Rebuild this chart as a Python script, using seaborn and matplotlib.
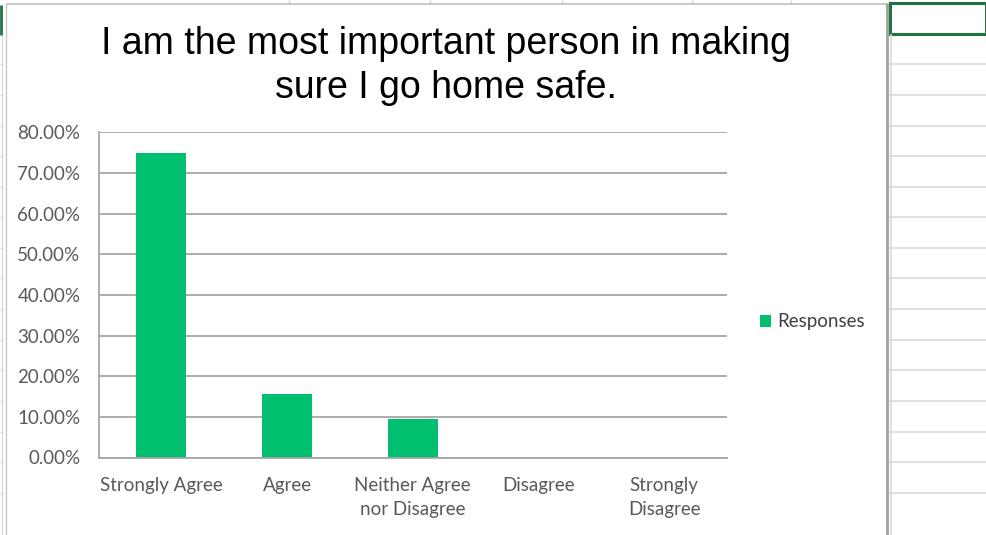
import matplotlib
matplotlib.use("Agg")
import matplotlib.pyplot as plt
import seaborn as sns
import pandas as pd
from matplotlib.lines import Line2D
from matplotlib.patches import Rectangle
from matplotlib.ticker import FixedLocator, FuncFormatter

categories = ["Strongly Agree", "Agree", "Neither Agree\nnor Disagree", "Disagree", "Strongly\nDisagree"]
responses = [0.75, 0.15625, 0.09375, 0.0, 0.0]
series_name = "Responses"
title = "I am the most important person in making\nsure I go home safe."
ytick_values = [0.0, 0.1, 0.2, 0.3, 0.4, 0.5, 0.6, 0.7, 0.8]

W, H = 986, 535
BAR = "#00BF6F"
GRID = "#a6a6a6"
TXT = "#595959"
FS = 13.5

sns.set_theme(style="white")
plt.rcParams['font.family'] = ['Lato', 'DejaVu Sans']

fig = plt.figure(figsize=(W / 100, H / 100), dpi=100)
fig.patch.set_facecolor("white")


def fx(px):
    return px / W


def fy(py):
    return 1 - py / H


# --- spreadsheet surroundings (decoration) ---
def fline(x0, y0, x1, y1, color, lw):
    fig.add_artist(Line2D([fx(x0), fx(x1)], [fy(y0), fy(y1)], transform=fig.transFigure,
                          color=color, lw=lw, solid_capstyle="butt"))


for yy in [64, 95, 126, 156, 187, 217, 248, 278, 309, 340, 370, 401, 432, 462, 493]:
    fline(889, yy, 986, yy, "#dadada", 1.2)
fline(890.5, 34, 890.5, 535, "#dadada", 1.2)
for xx in [289, 430, 562, 692, 791]:
    fline(xx, 0, xx, 4, "#d0d0d0", 1.0)
for yy in [64, 95, 126, 156, 187, 217, 248, 278, 309, 340, 370, 401, 432, 462, 493]:
    fline(0, yy, 3, yy, "#dadada", 1.0)
fline(2, 35, 2, 535, "#dadada", 1.0)
fline(1, 5, 1, 35, "#217346", 2.0)
# chart area border
fline(6, 4, 887, 4, "#bfbfbf", 1.2)
fline(6, 4, 6, 535, "#c8c8c8", 1.0)
fline(887, 3, 887, 535, "#a0a0a0", 2.0)
# selected cell
fig.add_artist(Rectangle((fx(889.5), fy(34)), fx(986) - fx(889.5), fy(3.5) - fy(34),
                         transform=fig.transFigure, fill=False, edgecolor="#217346", lw=2.2))

# --- chart ---
ax = fig.add_axes([fx(98.5), fy(457.5), fx(727) - fx(98.5), fy(132.3) - fy(457.5)])
df = pd.DataFrame({"Category": categories, "Value": responses, "Series": series_name})
sns.barplot(data=df, x="Category", y="Value", hue="Series", palette=[BAR], width=0.4,
            saturation=1, ax=ax, legend=True, linewidth=0)

ax.set_xlim(-0.5, len(categories) - 0.5)
ax.set_ylim(0, 0.8)
ax.yaxis.set_major_locator(FixedLocator(ytick_values))
ax.yaxis.set_major_formatter(FuncFormatter(lambda v, p: f"{v * 100:.2f}%"))
ax.set_axisbelow(True)
ax.grid(axis="y", color=GRID, lw=1.3)
ax.grid(axis="x", visible=False)
ax.set_xlabel("")
ax.set_ylabel("")

for s in ["top", "right"]:
    ax.spines[s].set_visible(False)
for s in ["left", "bottom"]:
    ax.spines[s].set_color(GRID)
    ax.spines[s].set_linewidth(1.3)

ax.set_xticks(range(len(categories)))
ax.set_xticklabels(categories, fontsize=FS, color=TXT, linespacing=1.5, va="top")
ax.set_xticks([i - 0.5 for i in range(len(categories) + 1)], minor=True)
ax.tick_params(axis="x", which="major", length=0, pad=14)
ax.tick_params(axis="x", which="minor", length=5, width=1.3, color=GRID, direction="out")
ax.tick_params(axis="y", which="major", length=5, width=1.3, color=GRID, direction="out",
               labelsize=FS, labelcolor=TXT, pad=8)

handles, labels = ax.get_legend_handles_labels()
ax.legend(handles, labels, loc="center left", bbox_to_anchor=(fx(760), fy(322)),
          bbox_transform=fig.transFigure, frameon=False, fontsize=FS, handlelength=0.6,
          handleheight=0.6, handletextpad=0.32, borderpad=0, borderaxespad=0,
          labelcolor="#404040")

fig.text(fx(446), fy(66), title, ha="center", va="center", fontsize=27,
         family=["Liberation Sans", "DejaVu Sans"], color="black", linespacing=1.26)

fig.savefig("out.png", dpi=100, facecolor="white")
